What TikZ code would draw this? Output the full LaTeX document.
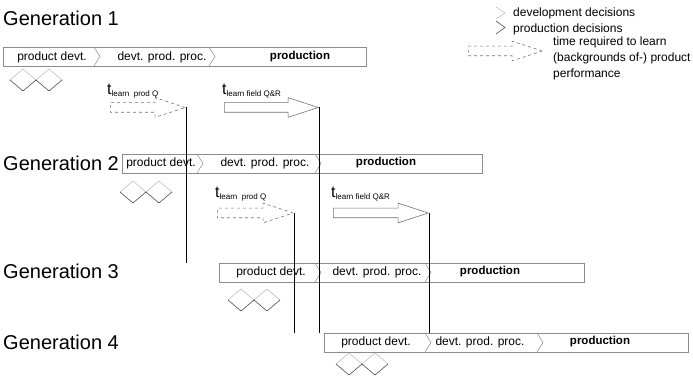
\documentclass[tikz,border=0pt]{standalone}
\usepackage{fontspec}
\setmainfont{Liberation Sans}
\usetikzlibrary{shapes.arrows}

% t with a small "learn ..." subscript, set as text
\newcommand{\tlearn}[1]{{\fontsize{16}{16}\selectfont t}\raisebox{-1.5pt}{\fontsize{8}{8}\selectfont #1}}

% lattice of decisions: upper half development, lower half production
\newcommand{\decisions}[2]{%
  \begin{scope}[shift={(#1,#2)}]
    \draw[devdec] (0,11) -- (13,0) -- (26,11) -- (39,0) -- (52,11);
    \draw[proddec] (0,11) -- (13,22) -- (26,11) -- (39,22) -- (52,11);
  \end{scope}}

\tikzset{
  genlabel/.style={anchor=west, inner sep=0pt, font=\fontsize{20}{24}\selectfont},
  phasebar/.style={draw=black!45, line width=0.5pt, anchor=north west, minimum height=19pt, inner sep=0pt},
  phasetext/.style={inner sep=0pt, font=\fontsize{12}{14}\selectfont},
  prodtext/.style={inner sep=0pt, font=\fontsize{11.5}{14}\selectfont\bfseries},
  phasesep/.style={draw=black!45, line width=0.5pt},
  devdec/.style={draw=black!25, line width=0.6pt},
  proddec/.style={draw=black!70, line width=0.6pt},
  learnarrow/.style={single arrow, draw=black!55, line width=0.6pt, anchor=tail,
    inner xsep=0pt, inner ysep=4.5pt, single arrow head extend=5pt,
    single arrow tip angle=36, minimum height=#1},
  learnlabel/.style={anchor=base west, inner sep=0pt},
  legendtext/.style={anchor=west, inner sep=0pt, font=\fontsize{12}{16}\selectfont},
  infoline/.style={draw=black, line width=0.6pt}
}

\begin{document}
\begin{tikzpicture}[x=1pt, y=-1pt]
\useasboundingbox (0,0) rectangle (693,379);

% Generation labels
\node[genlabel] (g1label) at (3,18) {Generation 1};
\node[genlabel] (g2label) at (3,163) {Generation 2};
\node[genlabel] (g3label) at (3,271) {Generation 3};
\node[genlabel] (g4label) at (3,342) {Generation 4};

% Generation 1 bar
\node[phasebar, minimum width=363pt] (g1bar) at (3,47) {};
\draw[phasesep] (94,47) -- (100,56.5) -- (94,66);
\draw[phasesep] (209,47) -- (215,56.5) -- (209,66);
\node[phasetext] (g1dev) at (52,57) {product devt.};
\node[phasetext] (g1proc) at (162,57) {devt. prod. proc.};
\node[prodtext] (g1prod) at (300,57) {production};
\decisions{10}{69}

% Generation 2 bar
\node[phasebar, minimum width=360pt] (g2bar) at (122,154) {};
\draw[phasesep] (197,154) -- (203,163.5) -- (197,173);
\draw[phasesep] (315,154) -- (321,163.5) -- (315,173);
\node[phasetext] (g2dev) at (161,163) {product devt.};
\node[phasetext] (g2proc) at (265,163) {devt. prod. proc.};
\node[prodtext] (g2prod) at (386,163) {production};
\decisions{120}{181}

% Generation 3 bar
\node[phasebar, minimum width=365pt] (g3bar) at (219,263) {};
\draw[phasesep] (315,263) -- (321,272.5) -- (315,282);
\draw[phasesep] (425,263) -- (431,272.5) -- (425,282);
\node[phasetext] (g3dev) at (271,272) {product devt.};
\node[phasetext] (g3proc) at (377,272) {devt. prod. proc.};
\node[prodtext] (g3prod) at (490,272) {production};
\decisions{228}{289}

% Generation 4 bar
\node[phasebar, minimum width=364pt] (g4bar) at (324,333) {};
\draw[phasesep] (425,333) -- (431,342.5) -- (425,352);
\draw[phasesep] (537,333) -- (543,342.5) -- (537,352);
\node[phasetext] (g4dev) at (376,342) {product devt.};
\node[phasetext] (g4proc) at (480,342) {devt. prod. proc.};
\node[prodtext] (g4prod) at (600,342) {production};
\decisions{336}{353}

% Learning times of generation 1
\node[learnlabel] (g1tq) at (107,95) {\tlearn{learn\ \ prod Q}};
\node[learnarrow=75pt, dashed] (g1aq) at (110,107.5) {};
\node[learnlabel] (g1tf) at (222,95) {\tlearn{learn field Q\&R}};
\node[learnarrow=94pt] (g1af) at (224,107.5) {};

% Learning times of generation 2
\node[learnlabel] (g2tq) at (215,198) {\tlearn{learn\ \ prod Q}};
\node[learnarrow=76pt, dashed] (g2aq) at (217,213) {};
\node[learnlabel] (g2tf) at (331,198) {\tlearn{learn field Q\&R}};
\node[learnarrow=95pt] (g2af) at (333,213) {};

% Moments the learned information is available
\draw[infoline] (g1aq.tip) -- (g1aq.tip |- g3bar.north);
\draw[infoline] (g1af.tip) -- (g1af.tip |- g4bar.north);
\draw[infoline] (g2aq.tip) -- (g2aq.tip |- g4bar.north);
\draw[infoline] (g2af.tip) -- (g2af.tip |- g4bar.north);

% Legend
\draw[devdec] (496,7) -- (505,13) -- (496,19);
\node[legendtext] (devkey) at (513,13) {development decisions};
\draw[proddec] (496,21) -- (505,27.5) -- (496,34);
\node[legendtext] (prodkey) at (513,29) {production decisions};
\node[learnarrow=74pt, dashed] (timekey) at (468,51) {};
\node[legendtext, anchor=north west, align=left] (timetext) at (553,37)
  {time required to learn\\(backgrounds of-) product\\performance};
\end{tikzpicture}
\end{document}
